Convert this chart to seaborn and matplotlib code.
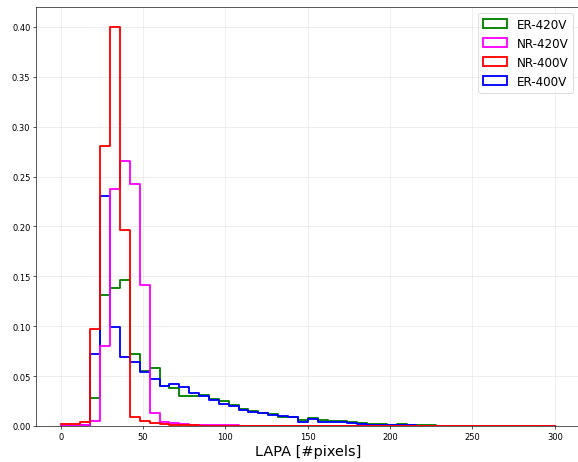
import numpy as np
import pandas as pd
import matplotlib
matplotlib.use("Agg")
import matplotlib.pyplot as plt
from matplotlib.patches import Patch
import seaborn as sns

# Histogram bins: 6-pixel wide bins from 0 to 300
bin_edges = np.arange(0, 306, 6)
bin_centers = (bin_edges[:-1] + bin_edges[1:]) / 2

# Per-bin fractions for each setting
er_420v = [0.000, 0.000, 0.001, 0.028, 0.131, 0.138, 0.146, 0.072, 0.055, 0.058,
           0.040, 0.038, 0.030, 0.030, 0.031, 0.027, 0.025, 0.021, 0.017, 0.015,
           0.013, 0.012, 0.009, 0.009, 0.006, 0.008, 0.006, 0.005, 0.005, 0.004,
           0.003, 0.002, 0.002, 0.001, 0.002, 0.001, 0.0005, 0.0005, 0.0003, 0.0003,
           0.0002, 0.0002, 0.0, 0.0, 0.0, 0.0, 0.0, 0.0, 0.0, 0.0]
nr_420v = [0.000, 0.000, 0.001, 0.005, 0.080, 0.238, 0.266, 0.243, 0.141, 0.013,
           0.004, 0.003, 0.002, 0.001, 0.001, 0.001, 0.0005, 0.0005, 0.0003, 0.0003,
           0.0002, 0.0002, 0.0, 0.0, 0.0, 0.0, 0.0, 0.0, 0.0, 0.0,
           0.0, 0.0, 0.0, 0.0, 0.0, 0.0, 0.0, 0.0, 0.0, 0.0,
           0.0002, 0.0, 0.0002, 0.0, 0.0, 0.0, 0.0, 0.0, 0.0, 0.0]
nr_400v = [0.002, 0.002, 0.004, 0.097, 0.281, 0.400, 0.196, 0.009, 0.005, 0.003,
           0.002, 0.001, 0.0005, 0.0005, 0.0, 0.0, 0.0, 0.0, 0.0, 0.0,
           0.0, 0.0, 0.0, 0.0, 0.0, 0.0, 0.0, 0.0, 0.0, 0.0,
           0.0, 0.0, 0.0, 0.0, 0.0, 0.0, 0.0, 0.0, 0.0, 0.0,
           0.0, 0.0, 0.0, 0.0, 0.0, 0.0, 0.0, 0.0, 0.0, 0.0]
er_400v = [0.000, 0.000, 0.001, 0.072, 0.231, 0.099, 0.069, 0.064, 0.054, 0.047,
           0.040, 0.042, 0.039, 0.033, 0.030, 0.026, 0.022, 0.020, 0.016, 0.014,
           0.013, 0.011, 0.010, 0.009, 0.004, 0.007, 0.004, 0.004, 0.004, 0.003,
           0.002, 0.001, 0.001, 0.001, 0.0005, 0.0005, 0.0003, 0.0, 0.0, 0.0,
           0.0, 0.0, 0.0, 0.0, 0.0, 0.0, 0.0, 0.0, 0.0, 0.0]

legend_labels = ["ER-420V", "NR-420V", "NR-400V", "ER-400V"]
colors = {"ER-420V": "green", "NR-420V": "magenta", "NR-400V": "red", "ER-400V": "blue"}
series = {"ER-420V": er_420v, "NR-420V": nr_420v, "NR-400V": nr_400v, "ER-400V": er_400v}
draw_order = ["ER-420V", "ER-400V", "NR-420V", "NR-400V"]

fig = plt.figure(figsize=(10, 8.01), dpi=57.8)
ax = fig.add_axes([0.0623, 0.0778, 0.9403, 0.905])

for name in draw_order:
    df = pd.DataFrame({"x": bin_centers, "w": series[name]})
    sns.histplot(data=df, x="x", weights="w", binwidth=6, binrange=(0, 300),
                 element="step", fill=False, color=colors[name], linewidth=2.3, ax=ax)

ax.set_xlim(-15, 315)
ax.set_ylim(0, 0.42)
ax.set_xlabel("LAPA [#pixels]", fontsize=18)
ax.set_ylabel("")
ax.tick_params(labelsize=10.5)
ax.grid(True, alpha=0.3)
ax.set_axisbelow(True)

handles = [Patch(facecolor="none", edgecolor=colors[n], linewidth=2.3) for n in legend_labels]
ax.legend(handles, legend_labels, loc="upper right", fontsize=15)

fig.savefig("out.png", dpi=57.8)
